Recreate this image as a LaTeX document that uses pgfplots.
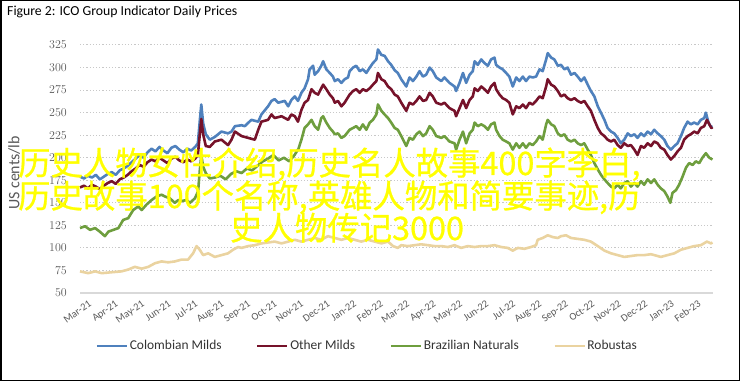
\documentclass[border=0pt]{standalone}
\usepackage{pgfplots}
\pgfplotsset{compat=1.18}
\usepackage{fontspec}
\setmainfont{Carlito}
\newfontfamily\cjk[FakeBold=0.8]{Noto Sans CJK SC}
\definecolor{cblue}{RGB}{79,129,189}
\definecolor{cred}{RGB}{118,18,42}
\definecolor{cgreen}{RGB}{110,158,62}
\definecolor{ctan}{RGB}{234,211,160}
\definecolor{gridc}{RGB}{200,200,200}
\definecolor{txt}{RGB}{89,89,89}
\begin{document}
\begin{tikzpicture}
\useasboundingbox (0,0) rectangle (740bp,381bp);
\draw[line width=1.5bp] (0.75bp,0.75bp) rectangle (739.25bp,380.25bp);
\node[anchor=west, inner sep=0pt, font=\fontsize{13.8}{15}\selectfont] at (7bp,369bp) {Figure 2: ICO Group Indicator Daily Prices};
\begin{axis}[
  at={(80bp,88bp)}, anchor=south west,
  scale only axis, width=633bp, height=248bp,
  xmin=0, xmax=23.9, ymin=50, ymax=325,
  clip=false,
  axis line style={draw=none},
  tick style={draw=none},
  ytick={50,75,...,325},
  ymajorgrids,
  grid style={gridc, line width=1bp, dash pattern=on 1.2bp off 2bp},
  yticklabel style={anchor=east, inner sep=0pt, xshift=-13bp, text=txt, font=\fontsize{13}{14}\selectfont},
  xtick={0,...,23},
  xticklabels={Mar-21,Apr-21,May-21,Jun-21,Jul-21,Aug-21,Sep-21,Oct-21,Nov-21,Dec-21,Jan-22,Feb-22,Mar-22,Apr-22,May-22,Jun-22,Jul-22,Aug-22,Sep-22,Oct-22,Nov-22,Dec-22,Jan-23,Feb-23},
  xticklabel style={rotate=35, anchor=north east, inner sep=0pt, xshift=3bp, yshift=-10bp, text=txt, font=\fontsize{10.5}{11}\selectfont},
  ylabel={US cents/lb},
  ylabel style={at={(axis description cs:-0.104,0.484)}, anchor=center, rotate=0, text=txt, font=\fontsize{16}{17}\selectfont},
  legend columns=4,
  legend style={at={(axis description cs:0.4534,-0.2137)}, anchor=center, draw=none, fill=none,
    font=\fontsize{13.5}{14}\selectfont, text=black!80,
    /tikz/every even column/.append style={column sep=33bp},
    nodes={inner sep=1.5bp}},
  legend cell align=left,
  legend image code/.code={\draw[#1] (0bp,0bp) -- (30bp,0bp);},
  every axis plot/.append style={line width=2.6bp, line join=round},
]
\draw[gray!30, line width=2bp] (axis cs:0,50) -- (axis cs:23.9,50);
\addplot[cblue] coordinates {(0.00,179) (0.15,177) (0.30,180) (0.45,178) (0.60,181) (0.75,176) (0.90,179) (1.05,182) (1.20,184) (1.35,181) (1.50,186) (1.65,188) (1.80,191) (1.95,195) (2.10,199) (2.25,203) (2.40,200) (2.55,206) (2.70,210) (2.85,207) (3.00,212) (3.15,208) (3.30,205) (3.45,211) (3.60,213) (3.75,209) (3.90,206) (4.05,210) (4.20,208) (4.35,212) (4.45,216) (4.52,240) (4.58,259) (4.65,238) (4.75,226) (4.90,220) (5.09,223) (5.34,229) (5.59,227) (5.72,229) (5.85,235) (6.10,236) (6.22,235) (6.47,242) (6.73,240) (6.85,248) (7.10,257) (7.23,263) (7.35,265) (7.48,261) (7.73,263) (7.86,257) (7.98,264) (8.11,268) (8.23,263) (8.36,272) (8.48,277) (8.61,287) (8.67,298) (8.80,302) (8.86,292) (8.99,296) (9.11,302) (9.18,307) (9.30,298) (9.43,294) (9.55,290) (9.62,285) (9.74,287) (9.87,283) (9.99,287) (10.12,289) (10.18,296) (10.31,300) (10.43,302) (10.56,296) (10.68,298) (10.81,294) (10.94,300) (11.06,305) (11.19,309) (11.25,320) (11.38,314) (11.50,313) (11.63,307) (11.75,303) (11.88,297) (12.00,294) (12.13,287) (12.32,279) (12.44,289) (12.57,285) (12.70,290) (12.82,296) (12.95,290) (13.07,292) (13.20,300) (13.32,296) (13.45,289) (13.64,285) (13.76,289) (13.95,283) (14.14,279) (14.20,274) (14.33,283) (14.46,294) (14.58,283) (14.71,292) (14.83,296) (14.90,307) (15.02,303) (15.15,309) (15.27,305) (15.40,302) (15.52,309) (15.65,311) (15.71,303) (15.84,300) (15.96,298) (16.09,294) (16.21,290) (16.34,279) (16.47,289) (16.59,285) (16.72,290) (16.84,285) (16.97,290) (17.09,289) (17.22,290) (17.35,298) (17.47,296) (17.60,309) (17.66,316) (17.79,311) (17.91,309) (18.04,302) (18.16,303) (18.29,298) (18.41,300) (18.54,292) (18.67,294) (18.79,290) (18.92,285) (19.04,289) (19.17,281) (19.29,274) (19.42,268) (19.55,257) (19.67,250) (19.80,242) (19.92,233) (20.05,229) (20.17,227) (20.30,222) (20.42,216) (20.55,220) (20.68,227) (20.80,224) (20.93,226) (21.05,222) (21.18,227) (21.30,224) (21.43,229) (21.56,226) (21.68,231) (21.81,227) (21.93,224) (22.06,220) (22.18,213) (22.31,209) (22.44,213) (22.56,216) (22.69,224) (22.81,233) (22.94,240) (23.06,237) (23.19,239) (23.32,237) (23.44,242) (23.57,244) (23.63,250) (23.72,240) (23.80,235) (23.88,234)};
\addlegendentry{Colombian Milds}
\addplot[cred] coordinates {(0.00,167) (0.15,169) (0.30,166) (0.45,170) (0.60,168) (0.75,165) (0.90,169) (1.05,172) (1.20,174) (1.35,171) (1.50,176) (1.65,178) (1.80,181) (1.95,185) (2.10,188) (2.25,192) (2.40,190) (2.55,195) (2.70,198) (2.85,196) (3.00,200) (3.15,197) (3.30,194) (3.45,199) (3.60,201) (3.75,197) (3.90,195) (4.05,198) (4.20,196) (4.35,199) (4.45,203) (4.52,225) (4.58,243) (4.65,226) (4.75,213) (4.90,212) (5.09,218) (5.34,220) (5.59,214) (5.72,220) (5.85,229) (6.10,224) (6.35,222) (6.60,220) (6.73,231) (6.85,240) (7.10,242) (7.23,248) (7.35,244) (7.61,246) (7.86,242) (7.98,248) (8.11,246) (8.23,240) (8.36,253) (8.48,261) (8.61,264) (8.74,276) (8.86,272) (8.99,270) (9.11,277) (9.18,281) (9.30,276) (9.43,270) (9.55,266) (9.62,261) (9.74,263) (9.87,257) (9.99,261) (10.18,270) (10.31,274) (10.43,276) (10.56,272) (10.68,276) (10.81,274) (10.94,277) (11.06,281) (11.19,285) (11.25,294) (11.38,287) (11.50,285) (11.63,279) (11.75,276) (11.88,270) (12.00,268) (12.13,261) (12.32,252) (12.44,261) (12.57,259) (12.70,263) (12.82,268) (12.95,263) (13.07,264) (13.20,272) (13.32,268) (13.45,261) (13.64,259) (13.76,261) (13.95,255) (14.14,252) (14.20,246) (14.33,255) (14.46,264) (14.58,255) (14.71,264) (14.83,268) (14.90,277) (15.02,274) (15.15,279) (15.27,276) (15.40,272) (15.52,279) (15.65,283) (15.71,276) (15.84,270) (15.96,266) (16.09,264) (16.21,261) (16.34,248) (16.47,257) (16.59,255) (16.72,259) (16.84,255) (16.97,261) (17.09,259) (17.22,263) (17.35,268) (17.47,266) (17.60,279) (17.66,287) (17.79,281) (17.91,279) (18.04,274) (18.16,268) (18.29,270) (18.41,266) (18.54,264) (18.67,266) (18.79,263) (18.92,261) (19.04,263) (19.17,257) (19.29,252) (19.42,242) (19.55,233) (19.67,227) (19.80,224) (19.92,220) (20.05,218) (20.17,220) (20.30,214) (20.42,211) (20.55,216) (20.68,213) (20.80,214) (20.93,209) (21.05,203) (21.18,213) (21.30,211) (21.43,216) (21.56,213) (21.68,218) (21.81,216) (21.93,211) (22.06,209) (22.18,203) (22.31,198) (22.44,202) (22.56,207) (22.69,211) (22.81,220) (22.94,224) (23.06,226) (23.19,229) (23.32,227) (23.44,233) (23.57,235) (23.67,242) (23.76,237) (23.84,233) (23.88,234)};
\addlegendentry{Other Milds}
\addplot[cgreen] coordinates {(0.00,122) (0.19,124) (0.38,120) (0.57,122) (0.75,118) (0.94,113) (1.07,118) (1.26,120) (1.45,122) (1.63,131) (1.82,133) (2.01,142) (2.20,146) (2.33,142) (2.51,148) (2.70,153) (2.89,157) (3.08,159) (3.21,157) (3.39,155) (3.58,150) (3.71,153) (3.83,152) (4.02,153) (4.15,150) (4.34,155) (4.46,163) (4.52,185) (4.58,203) (4.65,190) (4.75,183) (4.90,177) (5.09,178) (5.30,180) (5.50,176) (5.70,182) (5.90,185) (6.10,183) (6.30,188) (6.50,186) (6.70,191) (6.90,196) (7.10,199) (7.30,203) (7.50,197) (7.70,200) (7.90,196) (8.10,203) (8.25,210) (8.36,220) (8.48,233) (8.61,237) (8.74,242) (8.86,235) (8.99,231) (9.11,244) (9.18,246) (9.30,239) (9.43,233) (9.55,229) (9.62,226) (9.74,227) (9.87,222) (9.99,224) (10.18,231) (10.31,233) (10.43,235) (10.56,231) (10.68,237) (10.81,231) (10.94,239) (11.06,242) (11.19,248) (11.25,259) (11.38,252) (11.50,248) (11.63,244) (11.75,239) (11.88,233) (12.00,231) (12.13,224) (12.32,213) (12.44,222) (12.57,220) (12.70,226) (12.82,229) (12.95,224) (13.07,227) (13.20,235) (13.32,231) (13.45,224) (13.64,222) (13.76,224) (13.95,218) (14.14,216) (14.20,209) (14.33,220) (14.46,229) (14.58,216) (14.71,227) (14.83,231) (14.90,239) (15.02,235) (15.15,237) (15.27,235) (15.40,231) (15.52,237) (15.65,239) (15.71,231) (15.84,224) (15.96,220) (16.09,218) (16.21,216) (16.34,209) (16.47,216) (16.59,211) (16.72,216) (16.84,211) (16.97,216) (17.09,214) (17.22,218) (17.35,224) (17.47,220) (17.60,237) (17.66,242) (17.79,237) (17.91,235) (18.04,227) (18.16,224) (18.29,226) (18.41,220) (18.54,218) (18.67,220) (18.79,216) (18.92,214) (19.04,216) (19.17,209) (19.29,203) (19.42,194) (19.55,187) (19.67,181) (19.80,176) (19.92,172) (20.05,168) (20.17,166) (20.30,170) (20.42,166) (20.55,172) (20.68,174) (20.80,168) (20.93,172) (21.05,168) (21.18,174) (21.30,170) (21.43,176) (21.56,172) (21.68,176) (21.81,170) (21.93,166) (22.06,163) (22.18,157) (22.29,150) (22.37,161) (22.50,164) (22.62,170) (22.75,179) (22.88,189) (23.00,194) (23.13,192) (23.25,196) (23.38,194) (23.50,200) (23.63,205) (23.76,200) (23.88,198)};
\addlegendentry{Brazilian Naturals}
\addplot[ctan] coordinates {(0.00,74) (0.31,72) (0.57,74) (0.82,72) (1.19,73) (1.57,74) (1.82,76) (2.07,79) (2.33,77) (2.58,79) (2.83,83) (3.08,85) (3.33,84) (3.58,85) (3.83,87) (4.08,87) (4.27,94) (4.40,102) (4.52,98) (4.65,92) (4.84,94) (5.09,90) (5.34,92) (5.59,94) (5.78,98) (5.97,101) (6.10,100) (6.35,102) (6.60,103) (6.85,105) (7.10,106) (7.35,107) (7.61,105) (7.86,107) (8.11,109) (8.36,107) (8.61,109) (8.86,111) (9.11,109) (9.36,113) (9.62,111) (9.87,109) (10.12,111) (10.37,109) (10.62,107) (10.87,109) (11.13,107) (11.38,105) (11.63,107) (11.82,102) (12.00,100) (12.13,103) (12.38,102) (12.63,103) (12.88,104) (13.14,103) (13.39,102) (13.64,102) (13.89,101) (14.14,103) (14.39,100) (14.64,102) (14.90,101) (15.15,102) (15.40,102) (15.65,103) (15.90,101) (16.15,100) (16.34,97) (16.53,100) (16.78,99) (17.03,101) (17.22,103) (17.28,109) (17.47,111) (17.66,114) (17.85,112) (18.04,111) (18.16,113) (18.35,114) (18.54,111) (18.79,110) (19.04,109) (19.29,107) (19.55,102) (19.80,97) (20.05,94) (20.30,92) (20.55,90) (20.80,91) (21.05,92) (21.30,92) (21.56,93) (21.81,91) (21.93,90) (22.18,92) (22.44,94) (22.69,98) (22.94,100) (23.19,102) (23.44,103) (23.67,107) (23.82,105) (23.88,106)};
\addlegendentry{Robustas}
\end{axis}
\begin{scope}[every node/.style={anchor=base west, inner sep=0pt, text={rgb,255:red,255;green,255;blue,0}, font=\cjk\fontsize{32.5}{33}\selectfont}]
\node at (18bp,206bp) {历史人物女性介绍,历史名人故事400字李白,};
\node at (18bp,173bp) {历史故事100个名称,英雄人物和简要事迹,历};
\node at (230bp,141bp) {史人物传记3000};
\end{scope}
\end{tikzpicture}
\end{document}
